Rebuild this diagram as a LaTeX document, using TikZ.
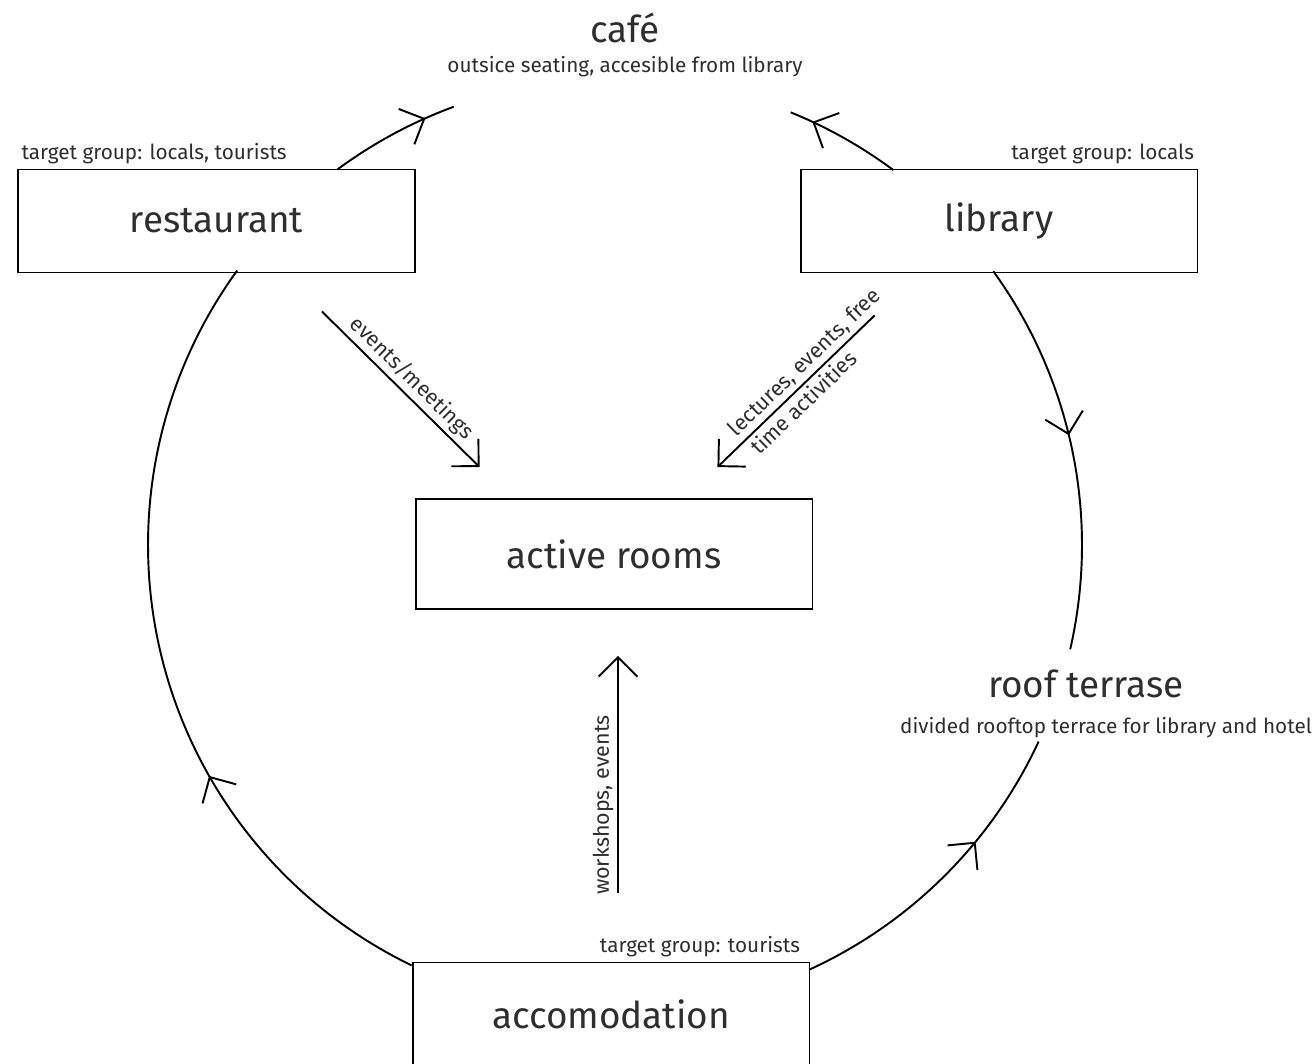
\documentclass[tikz,border=0pt]{standalone}
\usepackage{fontspec}
\setmainfont{Fira Sans}
\usepackage{xcolor}
\usetikzlibrary{arrows.meta,positioning,calc,decorations.markings}
\definecolor{txtGrey}{HTML}{2E2E2E}

\begin{document}
\begin{tikzpicture}[x=0.02cm, y=0.02cm, line width=1.1pt,
  box/.style={draw, minimum width=7.94cm, minimum height=2.06cm, text=txtGrey,
    font=\fontsize{21}{24}\selectfont},
  title/.style={text=txtGrey, font=\fontsize{21}{24}\selectfont},
  sub/.style={text=txtGrey, font=\fontsize{11.8}{14}\selectfont},
  tag/.style={text=txtGrey, inner sep=2pt, font=\fontsize{11.8}{14}\selectfont},
  lbl/.style={text=txtGrey, inner sep=2pt, font=\fontsize{12.2}{15}\selectfont},
  barb/.style={-{Straight Barb[length=11pt,width=22pt]}},
  midarrow/.style={postaction=decorate, decoration={markings,
    mark=at position #1 with {\arrow{Straight Barb[length=11pt,width=22pt]}}}}]
\useasboundingbox (0,0) rectangle (1315,-1063);
% rooms
\node[box] (restaurant) at (216.5,-221) {restaurant};
\node[box] (library) at (999,-221) {library};
\node[box, minimum height=2.2cm] (active) at (614,-554) {active rooms};
\node[box] (accomodation) at (611,-1014) {accomodation};
% target groups
\node[tag, anchor=south west] (tag-rest) at (restaurant.north west) {target group: locals, tourists};
\node[tag, anchor=south east] (tag-lib) at (library.north east) {target group: locals};
\node[tag, anchor=south east] (tag-acc) at ($(accomodation.north east)+(-6,0)$) {target group: tourists};
% open spaces on the loop
\node[title] (cafe) at (625,-28) {café};
\node[sub] (cafe-sub) at (625,-67) {outsice seating, accesible from library};
\node[title] (terrace) at (1086,-684) {roof terrase};
\node[sub] (terrace-sub) at (1106,-728) {divided rooftop terrace for library and hotel};
% the loop
\coordinate (C) at (615,-545);
\draw[midarrow=0.77] ($(C)+(126.5:467)$) arc[start angle=126.5, end angle=110.2, radius=467];
\draw[midarrow=0.8] ($(C)+(53.4:467)$) arc[start angle=53.4, end angle=67.9, radius=467];
\draw[midarrow=0.457] ($(C)+(35.9:467)$) arc[start angle=35.9, end angle=-12.9, radius=467];
\draw[midarrow=0.64] ($(C)+(-65.3:467)$) arc[start angle=-65.3, end angle=-24.9, radius=467];
\draw[midarrow=0.345] ($(C)+(244.2:467)$) arc[start angle=244.2, end angle=144, radius=467];
% into the active rooms
\coordinate (em-s) at ($(restaurant.south east)+(-94,-38)$);
\coordinate (em-e) at ($(active.north west)+(65,31)$);
\draw[barb] (em-s) -- node[lbl, midway, above, sloped] (em-lbl) {events/meetings} (em-e);
\coordinate (lec-s) at ($(library.south west)+(75,-42)$);
\coordinate (lec-e) at ($(active.north east)+(-96,31)$);
\draw[barb] (lec-s) -- node[lbl, pos=0.38, above, sloped] (lec-lbl) {lectures, events, free}
  node[lbl, pos=0.51, below, sloped] (lec-lbl2) {time activities} (lec-e);
\coordinate (ws-s) at ($(accomodation.north)+(7,69)$);
\coordinate (ws-e) at ($(active.south)+(4,-46)$);
\draw[barb] (ws-s) -- node[lbl, pos=0.37, above, sloped] (ws-lbl) {workshops, events} (ws-e);
\end{tikzpicture}
\end{document}
